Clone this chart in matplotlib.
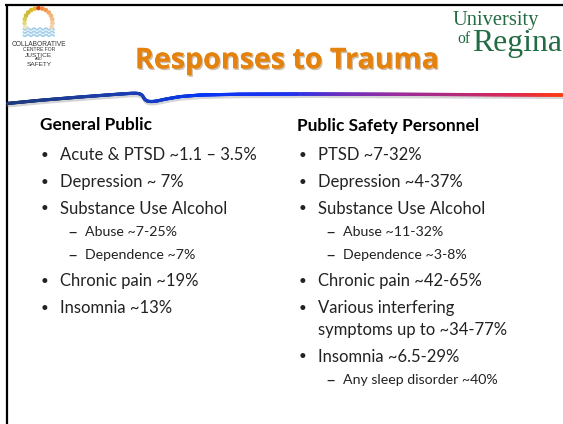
import numpy as np
import matplotlib
matplotlib.use("Agg")
import matplotlib.pyplot as plt
from matplotlib.collections import LineCollection
from matplotlib.colors import LinearSegmentedColormap
import matplotlib.patheffects as pe

# ---------------- content ----------------
title = "Responses to Trauma"
left_heading = "General Public"
left_levels = [1, 1, 1, 2, 2, 1, 1]
left_items = ["Acute & PTSD ~1.1 \u2013 3.5%", "Depression ~ 7%", "Substance Use Alcohol",
              "Abuse ~7-25%", "Dependence ~7%", "Chronic pain ~19%", "Insomnia ~13%"]
right_heading = "Public Safety Personnel"
right_levels = [1, 1, 1, 2, 2, 1, 1, 1, 2]
right_items = ["PTSD ~7-32%", "Depression ~4-37%", "Substance Use Alcohol",
               "Abuse ~11-32%", "Dependence ~3-8%", "Chronic pain ~42-65%",
               "Various interfering\nsymptoms up to ~34-77%", "Insomnia ~6.5-29%",
               "Any sleep disorder ~40%"]
uni_lines = ["University", "of", "Regina"]
cjs_lines = ["COLLABORATIVE", "CENTRE FOR", "JUSTICE", "AND", "SAFETY"]

# ---------------- figure ----------------
W, H = 563, 424
fig = plt.figure(figsize=(W / 100, H / 100), dpi=100)
ax = fig.add_axes([0, 0, 1, 1])
ax.set_xlim(0, W)
ax.set_ylim(H, 0)
ax.axis("off")
renderer = fig.canvas.get_renderer()

BODY = ["Lato", "DejaVu Sans"]
TXT = "#222222"


def fit(t, target):
    w = t.get_window_extent(renderer).width
    t.set_fontsize(t.get_fontsize() * target / w)
    return t.get_fontsize()


# border
ax.plot([5, W], [5, 5], color="black", lw=1.6, solid_capstyle="butt")
ax.plot([6.5, 6.5], [4.2, H], color="black", lw=1.6, solid_capstyle="butt")

# swoosh
ctrl = np.array([(7, 103.5), (40, 100.3), (80, 97), (115, 94.4), (133, 93.2), (139, 93.4),
                 (142.5, 95.0), (143.8, 98.3), (145.8, 100.7), (150, 101.7), (156, 101.2),
                 (165, 99.2), (180, 96.6), (200, 95.0), (240, 94.2), (300, 94.0),
                 (400, 94.3), (563, 95.0)])
d = np.r_[0, np.cumsum(np.hypot(*np.diff(ctrl, axis=0).T))]
s = np.linspace(0, d[-1], 900)
px = np.interp(s, d, ctrl[:, 0])
py = np.interp(s, d, ctrl[:, 1])
k = np.ones(9) / 9
pxs = np.convolve(np.pad(px, 4, mode="edge"), k, mode="valid")
pys = np.convolve(np.pad(py, 4, mode="edge"), k, mode="valid")
ax.plot(pxs + 0.5, pys + 2.2, color="#888888", lw=2.6, alpha=0.35, solid_capstyle="round")
segs = np.stack([np.c_[pxs[:-1], pys[:-1]], np.c_[pxs[1:], pys[1:]]], axis=1)
stops = [(7, "#1F3A7A"), (140, "#1A3EB8"), (200, "#0436F5"), (290, "#1E32EE"),
         (340, "#6A2EC0"), (400, "#9A2C9C"), (450, "#B02A80"), (510, "#D82858"),
         (563, "#FF3A10")]
cmap = LinearSegmentedColormap.from_list(
    "sw", [((x - 7) / (563 - 7), c) for x, c in stops])
lc = LineCollection(segs, cmap=cmap, norm=plt.Normalize(7, 563), lw=2.3, capstyle="round")
lc.set_array((pxs[:-1] + pxs[1:]) / 2)
ax.add_collection(lc)

# title
tt = ax.text(135, 68.3, title, fontsize=22, fontweight="bold", family=["Open Sans", "DejaVu Sans"],
             color="#E5820E", ha="left", va="baseline",
             path_effects=[pe.withSimplePatchShadow(offset=(1, -1.2), shadow_rgbFace="#7a4a10",
                                                    alpha=0.35), pe.Normal()])
fit(tt, 303)

# University of Regina
GREEN = "#236B42"
SERIF = ["Liberation Serif", "DejaVu Serif"]
u = ax.text(453, 25, uni_lines[0], fontsize=15, family=SERIF, color=GREEN, va="baseline")
fit(u, 87)
o = ax.text(457, 43, uni_lines[1], fontsize=11, family=SERIF, color=GREEN, va="baseline")
fit(o, 13)
r = ax.text(472, 51.5, uni_lines[2], fontsize=24, family=SERIF, color=GREEN, va="baseline")
fit(r, 90)

# CJS logo: arc of dots
cx, cy, rad = 38.5, 22.0, 14.0
ang = np.linspace(200, -20, 15)
dot_cols = ["#ECE6B8", "#E2D98A", "#D8CC5A", "#CCBE3A", "#D2B830", "#DDB828", "#E6B626",
            "#E23A1C", "#EC8A3C", "#F09A50", "#F2A864", "#F3B476", "#F4BE88", "#F5C89A",
            "#F6D2AC"]
ax.scatter(cx + rad * np.cos(np.radians(ang)), cy - rad * np.sin(np.radians(ang)),
           s=11, c=dot_cols, linewidths=0, zorder=3)
wx = np.linspace(23.5, 54, 120)
for wy in (29.0, 32.2, 35.4):
    ax.plot(wx, wy + 0.9 * np.sin(2 * np.pi * (wx - 23.5) / 6.0), color="#A6CFEA", lw=1.3)
logo_specs = [(46, 54), (50.7, 32), (56.7, 26.5), (60.2, 8), (66.5, 25)]
for (by, wd), line in zip(logo_specs, cjs_lines):
    t = ax.text(38.8, by, line, fontsize=4, family=["Liberation Sans", "DejaVu Sans"],
                color="#333333", ha="center", va="baseline")
    fit(t, wd)

# headings
hl = ax.text(40, 130.5, left_heading, fontsize=10, fontweight="bold", family=BODY,
             color="black", va="baseline")
hsize = fit(hl, 112)
ax.text(297, 130.5, right_heading, fontsize=hsize, fontweight="bold", family=BODY,
        color="black", va="baseline")

# body size calibration
probe = ax.text(0, -50, left_items[0], fontsize=12, family=BODY)
s1 = fit(probe, 197)
probe.remove()
probe = ax.text(0, -50, left_items[4], fontsize=10, family=BODY)
s2 = fit(probe, 110)
probe.remove()
probe = ax.text(0, -50, "\u2013", fontsize=10, family=BODY)
sd = fit(probe, 10)
probe.remove()

GAP1, GAP2, CONT = 26.8, 22.8, 22.0


def column(x0, items, levels):
    y = None
    for lvl, item in zip(levels, items):
        lines = item.split("\n")
        if y is None:
            y = 160.0
        else:
            y += GAP1 if lvl == 1 else GAP2
        if lvl == 1:
            ax.text(x0 + 0.3, y - 1.2, "\u2022", fontsize=s1 * 0.8, family=BODY, color=TXT,
                    va="baseline")
            tx, fs = x0 + 20, s1
        else:
            ax.text(x0 + 27, y + 1.8, "\u2013", fontsize=sd, family=BODY, color=TXT,
                    va="baseline")
            tx, fs = x0 + 45, s2
        for j, ln in enumerate(lines):
            if j > 0:
                y += CONT
            ax.text(tx, y, ln, fontsize=fs, family=BODY, color=TXT, va="baseline")


column(40, left_items, left_levels)
column(298, right_items, right_levels)

fig.savefig("out.png", dpi=100)
